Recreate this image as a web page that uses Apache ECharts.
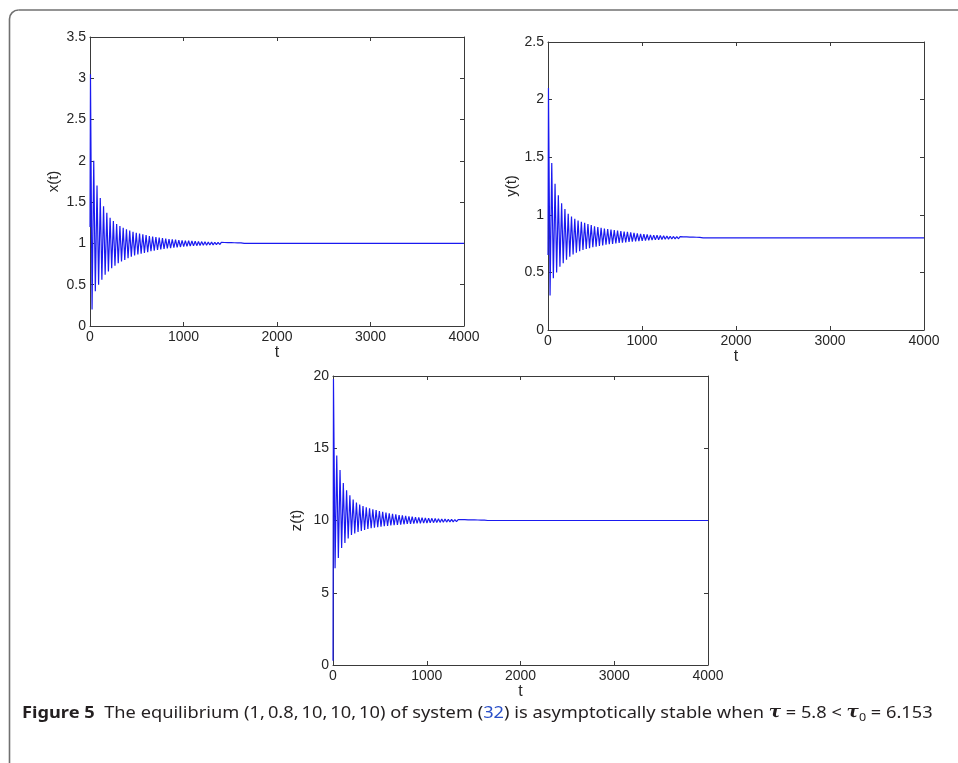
<!DOCTYPE html>
<html>
<head>
<meta charset="utf-8">
<script src="https://cdn.jsdelivr.net/npm/echarts@6/dist/echarts.min.js"></script>
<style>
html,body{margin:0;padding:0;background:#fff;}
#chart{width:958px;height:763px;}
</style>
</head>
<body>
<div id="chart"></div>
<script>
// time stamps of local maxima and minima
const peakTimes = [5,40,75,110,145,180,215,250,285,320,355,390,425,460,495,530,565,600,635,670,705,740,775,810,845,880,915,950,985,1020,1055,1090,1125,1160,1195,1230,1265,1300,1335,1370,1405,1440,1475,1510,1545,1580,1615];
const troughTimes = [22,57,92,127,162,197,232,267,302,337,372,407,442,477,512,547,582,617,652,687,722,757,792,827,862,897,932,967,1002,1037,1072,1107,1142,1177,1212,1247,1282,1317,1352,1387,1422,1457,1492,1527,1562,1597,1632];
const tEnd = [1650, 4000];

// x(t)
const xStart = 1.2;
const xPeaks = [3.05,2.0,1.7,1.55,1.45,1.37,1.31,1.27,1.235,1.21,1.19,1.17,1.155,1.14,1.13,1.12,1.11,1.1,1.09,1.083,1.076,1.07,1.064,1.058,1.053,1.049,1.045,1.041,1.038,1.035,1.032,1.029,1.026,1.024,1.022,1.02,1.018,1.016,1.014,1.013,1.012,1.011,1.01,1.009,1.008,1.007,1.006];
const xTroughs = [0.2,0.42,0.5,0.56,0.62,0.66,0.7,0.73,0.76,0.78,0.8,0.82,0.84,0.855,0.865,0.875,0.885,0.895,0.905,0.912,0.92,0.927,0.933,0.939,0.944,0.949,0.953,0.957,0.961,0.964,0.967,0.97,0.973,0.975,0.977,0.979,0.981,0.983,0.985,0.987,0.988,0.989,0.99,0.991,0.992,0.993,0.994];
const xEnd = [1, 1];

// y(t)
const yStart = 0.65;
const yPeaks = [2.1,1.45,1.27,1.17,1.1,1.05,1.01,0.985,0.965,0.95,0.94,0.93,0.92,0.91,0.9,0.893,0.887,0.881,0.876,0.871,0.867,0.863,0.859,0.855,0.851,0.847,0.843,0.839,0.835,0.832,0.829,0.826,0.824,0.822,0.82,0.818,0.816,0.814,0.812,0.811,0.81,0.809,0.808,0.807,0.806,0.805,0.804];
const yTroughs = [0.3,0.45,0.5,0.55,0.58,0.61,0.635,0.655,0.67,0.683,0.694,0.703,0.711,0.718,0.724,0.73,0.735,0.74,0.744,0.748,0.752,0.755,0.758,0.761,0.764,0.767,0.77,0.772,0.774,0.776,0.778,0.78,0.782,0.784,0.786,0.788,0.789,0.79,0.791,0.792,0.793,0.794,0.795,0.796,0.796,0.797,0.797];
const yEnd = [0.8, 0.8];

// z(t)
const zStart = 0.3;
const zPeaks = [19.8,14.5,13.5,12.6,12.1,11.75,11.45,11.25,11.1,11.0,10.92,10.85,10.78,10.72,10.66,10.6,10.55,10.5,10.46,10.42,10.38,10.35,10.32,10.29,10.265,10.24,10.22,10.2,10.18,10.165,10.15,10.135,10.12,10.11,10.1,10.09,10.08,10.07,10.065,10.06,10.055,10.05,10.045,10.04,10.035,10.03,10.025];
const zTroughs = [6.7,7.4,8.1,8.45,8.75,9.0,9.1,9.2,9.28,9.35,9.41,9.46,9.5,9.54,9.57,9.6,9.63,9.66,9.68,9.7,9.72,9.74,9.76,9.775,9.79,9.8,9.81,9.82,9.83,9.84,9.85,9.86,9.87,9.88,9.89,9.9,9.91,9.92,9.93,9.935,9.94,9.945,9.95,9.955,9.96,9.965,9.97];
const zEnd = [10, 10];

// axis ticks
const tTicks = [0, 1000, 2000, 3000, 4000];
const xAxisTicks = [0, 0.5, 1, 1.5, 2, 2.5, 3, 3.5];
const yAxisTicks = [0, 0.5, 1, 1.5, 2, 2.5];
const zAxisTicks = [0, 5, 10, 15, 20];

const caption = {
  label: 'Figure 5',
  before: 'The equilibrium (1,\u20090.8,\u200910,\u200910,\u200910) of system (',
  ref: '32',
  after: ') is asymptotically stable when ',
  tau1: '5.8',
  tau0: '6.153'
};

function build(start, peaks, troughs, end) {
  const d = [[0, start]];
  const n = Math.min(peaks.length, troughs.length, peakTimes.length, troughTimes.length);
  for (let i = 0; i < n; i++) {
    d.push([peakTimes[i], peaks[i]]);
    d.push([troughTimes[i], troughs[i]]);
  }
  for (let i = 0; i < tEnd.length; i++) d.push([tEnd[i], end[i]]);
  return d;
}

const FONT = 'Liberation Sans';
const AX = '#3a3a3a';
const TXT = '#262626';

const grids = [
  {left: 90, top: 37, width: 374, height: 289},
  {left: 548, top: 42, width: 376, height: 288},
  {left: 333, top: 376, width: 375, height: 289}
];
const yTicksList = [xAxisTicks, yAxisTicks, zAxisTicks];
const yNames = ['x(t)', 'y(t)', 'z(t)'];

const xAxes = [], yAxes = [];
grids.forEach((g, i) => {
  const tk = yTicksList[i];
  const common = {
    gridIndex: i, type: 'value',
    axisLine: {show: true, onZero: false, lineStyle: {color: AX, width: 1}},
    axisTick: {show: true, inside: true, length: 4, lineStyle: {color: AX}},
    splitLine: {show: false}
  };
  xAxes.push(Object.assign({}, common, {
    position: 'bottom', min: tTicks[0], max: tTicks[tTicks.length - 1],
    interval: tTicks[1] - tTicks[0],
    name: 't', nameLocation: 'middle', nameGap: 19,
    nameTextStyle: {fontFamily: FONT, fontSize: 16, color: TXT},
    axisLabel: {show: true, fontFamily: FONT, fontSize: 14, color: TXT, margin: 4, formatter: v => String(v)}
  }));
  xAxes.push(Object.assign({}, common, {
    position: 'top', min: tTicks[0], max: tTicks[tTicks.length - 1],
    interval: tTicks[1] - tTicks[0], axisLabel: {show: false}
  }));
  yAxes.push(Object.assign({}, common, {
    position: 'left', min: tk[0], max: tk[tk.length - 1], interval: tk[1] - tk[0],
    name: yNames[i], nameLocation: 'middle', nameGap: 29, nameRotate: 90,
    nameTextStyle: {fontFamily: FONT, fontSize: 15, color: TXT},
    axisLabel: {show: true, fontFamily: FONT, fontSize: 14, color: TXT, margin: 4, formatter: v => String(v)}
  }));
  yAxes.push(Object.assign({}, common, {
    position: 'right', min: tk[0], max: tk[tk.length - 1], interval: tk[1] - tk[0],
    axisLabel: {show: false}
  }));
});

const datasets = [
  build(xStart, xPeaks, xTroughs, xEnd),
  build(yStart, yPeaks, yTroughs, yEnd),
  build(zStart, zPeaks, zTroughs, zEnd)
];

const series = datasets.map((d, i) => ({
  type: 'line', xAxisIndex: i * 2, yAxisIndex: i * 2,
  data: d, showSymbol: false, symbol: 'none', smooth: false,
  lineStyle: {color: '#1a1af0', width: 1.2}, silent: true
}));

const CAP_FONT = 'Noto Sans';
const chart = echarts.init(document.getElementById('chart'), null, {renderer: 'canvas'});
chart.setOption({
  animation: false,
  backgroundColor: '#fff',
  grid: grids.map(g => Object.assign({containLabel: false}, g)),
  xAxis: xAxes,
  yAxis: yAxes,
  series: series,
  graphic: [
    {
      type: 'polyline', silent: true,
      shape: {points: [[958, 10], [18.5, 10]]},
      style: {stroke: '#707070', lineWidth: 1.6, fill: null}
    },
    {
      type: 'polyline', silent: true,
      shape: {points: [[9.5, 19], [9.5, 763]]},
      style: {stroke: '#707070', lineWidth: 1.6, fill: null}
    },
    {
      type: 'arc', silent: true,
      shape: {cx: 18.5, cy: 19, r: 9, startAngle: Math.PI, endAngle: Math.PI * 1.5, clockwise: true},
      style: {stroke: '#707070', lineWidth: 1.6, fill: null}
    },
    {
      type: 'text', x: 22, y: 703, scaleX: 1.14, silent: true,
      style: {
        text: '{b|' + caption.label + '}  ' + caption.before + '{l|' + caption.ref + '}' + caption.after +
              '{t|\u03C4} = ' + caption.tau1 + ' < {t|\u03C4}{s|0} = ' + caption.tau0,
        fontSize: 16, fontFamily: CAP_FONT,
        fill: '#231f20',
        rich: {
          b: {fontWeight: 'bold', fontSize: 16, fontFamily: CAP_FONT, fill: '#231f20', lineHeight: 20},
          l: {fill: '#2b50c8', fontSize: 16, fontFamily: CAP_FONT, lineHeight: 20},
          t: {fontWeight: 'bold', fontStyle: 'italic', fontSize: 16, fontFamily: 'DejaVu Serif', lineHeight: 20},
          s: {fontSize: 11, fontFamily: CAP_FONT, verticalAlign: 'bottom', lineHeight: 20, padding: [9, 0, 0, 0]}
        }
      }
    }
  ]
});
</script>
</body>
</html>
